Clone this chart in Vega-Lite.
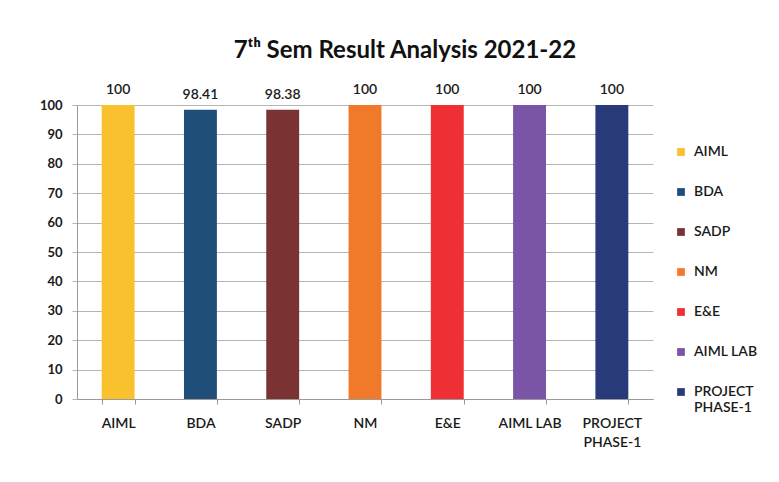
{
  "$schema": "https://vega.github.io/schema/vega-lite/v6.json",
  "autosize": {"type": "none"},
  "width": 576,
  "height": 294,
  "padding": {"left": 77, "top": 105, "right": 126, "bottom": 83},
  "background": "white",
  "title": {
    "text": "7ᵗʰ Sem Result Analysis 2021-22",
    "fontSize": 24,
    "font": "Lato",
    "fontWeight": "bold",
    "color": "#111111",
    "anchor": "middle",
    "dx": 40,
    "offset": 20
  },
  "data": {
    "values": [
      {"subject": "AIML", "result": 100, "label": "100"},
      {"subject": "BDA", "result": 98.41, "label": "98.41"},
      {"subject": "SADP", "result": 98.38, "label": "98.38"},
      {"subject": "NM", "result": 100, "label": "100"},
      {"subject": "E&E", "result": 100, "label": "100"},
      {"subject": "AIML LAB", "result": 100, "label": "100"},
      {"subject": "PROJECT PHASE-1", "result": 100, "label": "100"}
    ]
  },
  "encoding": {
    "x": {
      "field": "subject",
      "type": "nominal",
      "sort": null,
      "scale": {"paddingInner": 0.6, "paddingOuter": 0.3},
      "axis": {
        "title": null,
        "labelAngle": 0,
        "tickBand": "extent",
        "labelFont": "Lato",
        "labelFontSize": 14,
        "labelFontWeight": 600,
        "labelColor": "#1a1a1a",
        "labelPadding": 12,
        "labelLineHeight": 19,
        "labelBaseline": "top",
        "labelExpr": "datum.label == 'PROJECT PHASE-1' ? ['PROJECT', 'PHASE-1'] : datum.label",
        "domainColor": "#999999",
        "tickColor": "#999999",
        "tickSize": 5,
        "grid": false
      }
    },
    "y": {
      "field": "result",
      "type": "quantitative",
      "scale": {"domain": [0, 100], "nice": false},
      "axis": {
        "title": null,
        "values": [0, 10, 20, 30, 40, 50, 60, 70, 80, 90, 100],
        "labelFont": "Lato",
        "labelFontSize": 13,
        "labelFontWeight": "bold",
        "labelColor": "#1a1a1a",
        "labelPadding": 10,
        "gridColor": "#b5b5b5",
        "domainColor": "#999999",
        "tickColor": "#b5b5b5",
        "tickSize": 5
      }
    }
  },
  "layer": [
    {
      "mark": {"type": "bar"},
      "encoding": {
        "color": {
          "field": "subject",
          "type": "nominal",
          "sort": null,
          "scale": {
            "domain": ["AIML", "BDA", "SADP", "NM", "E&E", "AIML LAB", "PROJECT PHASE-1"],
            "range": ["#F9C12E", "#1F4E79", "#7B3232", "#F07A2A", "#EE3035", "#7A54A6", "#283A7A"]
          },
          "legend": {
            "title": null,
            "orient": "none",
            "legendX": 597,
            "legendY": 40,
            "symbolType": "square",
            "symbolSize": 60,
            "symbolStrokeWidth": 0,
            "labelFont": "Lato",
            "labelFontSize": 14,
            "labelFontWeight": 600,
            "labelColor": "#1a1a1a",
            "labelOffset": 6,
            "labelLineHeight": 20,
            "rowPadding": 26,
            "labelExpr": "datum.label == 'PROJECT PHASE-1' ? ['PROJECT', 'PHASE-1'] : datum.label"
          }
        }
      }
    },
    {
      "mark": {"type": "text", "dy": -8, "font": "Lato", "fontSize": 14, "fontWeight": 600, "color": "#1a1a1a", "baseline": "bottom"},
      "encoding": {"text": {"field": "label"}}
    }
  ],
  "config": {"view": {"stroke": null}}
}
